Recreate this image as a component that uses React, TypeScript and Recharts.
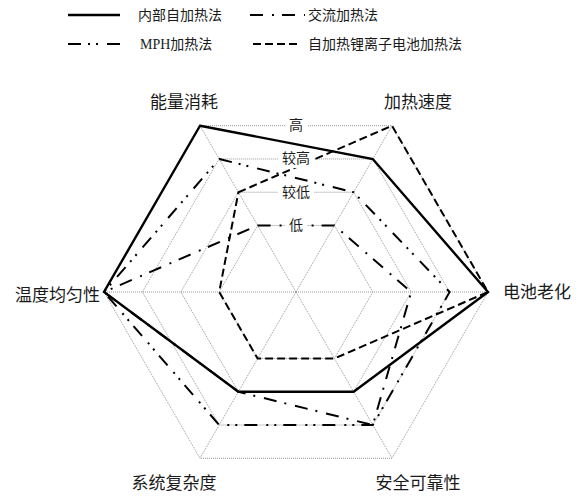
import {
  Legend,
  PolarAngleAxis,
  PolarGrid,
  PolarRadiusAxis,
  Radar,
  RadarChart,
} from "recharts";

// 评价维度
const axes = ["能量消耗", "加热速度", "电池老化", "安全可靠性", "系统复杂度", "温度均匀性"];

// 各加热方法的评分 (1=低, 2=较低, 3=较高, 4=高)
const internalHeating = [4, 3, 4, 2, 2, 4];
const acHeating = [1, 1, 2, 3, 2, 4];
const mphHeating = [3, 2, 3, 3, 3, 4];
const selfHeatingLib = [2, 4, 4, 1, 1, 1];

const levelValues = [1, 2, 3, 4];
const levelLabels = ["低", "较低", "较高", "高"];

const seriesNames = ["内部自加热法", "交流加热法", "MPH加热法", "自加热锂离子电池加热法"];

const data = axes.map((axis, i) => ({
  axis,
  internal: internalHeating[i],
  ac: acHeating[i],
  mph: mphHeating[i],
  lib: selfHeatingLib[i],
}));

const W = 566;
const H = 487;
const CX = 288;
const CY = 284;
const R = 192;

const FONT = "'Liberation Serif', 'Noto Sans CJK SC', serif";

const lineStyle: Record<string, { dash?: string; width: number }> = {
  内部自加热法: { width: 2.4 },
  交流加热法: { dash: "13 9 2 8", width: 2 },
  MPH加热法: { dash: "13 7 2 6 2 9", width: 2 },
  自加热锂离子电池加热法: { dash: "8 4", width: 2 },
};

// label placement around the outer hexagon
const labelShift = [
  [-12, -16, "middle"],
  [22, -16, "middle"],
  [7, 0, "start"],
  [22, 18, "middle"],
  [-22, 18, "middle"],
  [4, 3, "end"],
] as const;

const AngleTick = (props: any) => {
  const { x, y, payload } = props;
  const i = axes.indexOf(payload.value);
  const [dx, dy, anchor] = labelShift[i] ?? [0, 0, "middle"];
  return (
    <text
      x={x + dx}
      y={y + dy}
      textAnchor={anchor}
      dominantBaseline="central"
      fontSize={17}
      fontFamily={FONT}
      fill="#1a1a1a"
    >
      {payload.value}
    </text>
  );
};

const RadiusTick = (props: any) => {
  const { x, y, payload } = props;
  const label = levelLabels[levelValues.indexOf(payload.value)] ?? "";
  // sit the label on the top edge of each hexagon ring
  const ty = CY - (CY - y) * Math.cos(Math.PI / 6);
  const w = label.length * 14 + 8;
  return (
    <g>
      <rect x={x - w / 2} y={ty - 9} width={w} height={18} fill="#fff" />
      <text
        x={x}
        y={ty}
        textAnchor="middle"
        dominantBaseline="central"
        fontSize={14}
        fontFamily={FONT}
        fill="#1a1a1a"
      >
        {label}
      </text>
    </g>
  );
};

const legendPos = [
  { x1: 60, x2: 112, tx: 130, y: 7 },
  { x1: 242, x2: 297, tx: 300, y: 7 },
  { x1: 60, x2: 117, tx: 132, y: 36 },
  { x1: 245, x2: 289, tx: 300, y: 36 },
];

const LegendBlock = () => (
  <svg width={W} height={50} style={{ display: "block" }}>
    {seriesNames.map((name, i) => {
      const p = legendPos[i];
      const s = lineStyle[name];
      return (
        <g key={name}>
          <line
            x1={p.x1}
            x2={p.x2}
            y1={p.y}
            y2={p.y}
            stroke="#000"
            strokeWidth={s.width}
            strokeDasharray={s.dash}
          />
          <text
            x={p.tx}
            y={p.y}
            dominantBaseline="central"
            fontSize={14}
            fontFamily={FONT}
            fill="#1a1a1a"
          >
            {name}
          </text>
        </g>
      );
    })}
  </svg>
);

const keys = ["internal", "ac", "mph", "lib"];

export default function App() {
  return (
    <div style={{ width: W, height: H, background: "#fff" }}>
      <RadarChart
        width={W}
        height={H}
        data={data}
        cx={CX}
        cy={CY}
        outerRadius={R}
        startAngle={120}
        endAngle={-240}
        margin={{ top: 0, right: 0, bottom: 0, left: 0 }}
      >
        <PolarGrid
          gridType="polygon"
          stroke="#8a8a8a"
          strokeWidth={0.9}
          strokeDasharray="1 1"
        />
        <PolarAngleAxis
          dataKey="axis"
          axisLine={false}
          tickLine={false}
          tick={<AngleTick />}
        />
        {keys.map((k, i) => {
          const s = lineStyle[seriesNames[i]];
          return (
            <Radar
              key={k}
              name={seriesNames[i]}
              dataKey={k}
              stroke="#000"
              strokeWidth={s.width}
              strokeDasharray={s.dash}
              strokeLinejoin="miter"
              fill="none"
              fillOpacity={0}
              dot={false}
              isAnimationActive={false}
            />
          );
        })}
        <PolarRadiusAxis
          angle={90}
          type="number"
          domain={[-0.6, 4]}
          allowDataOverflow
          ticks={levelValues}
          axisLine={false}
          tickLine={false}
          tick={<RadiusTick />}
        />
        <Legend
          content={() => <LegendBlock />}
          wrapperStyle={{ position: "absolute", top: 0, left: 0, width: W }}
        />
      </RadarChart>
    </div>
  );
}
